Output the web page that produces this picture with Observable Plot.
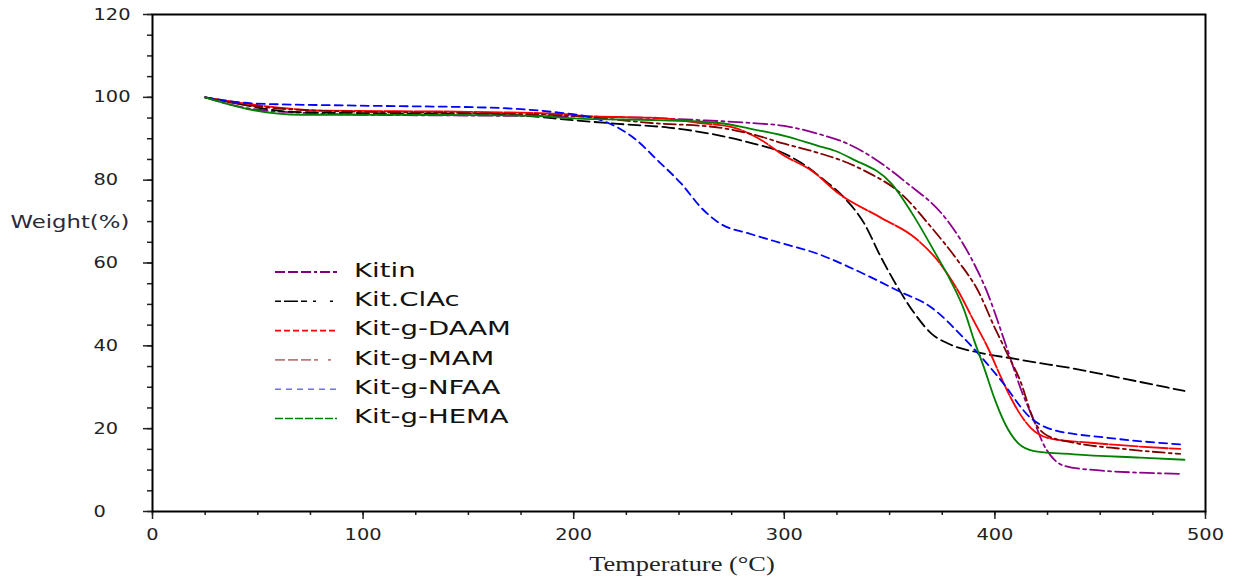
<!DOCTYPE html>
<html><head><meta charset="utf-8">
<script src="https://cdn.jsdelivr.net/npm/d3@7"></script>
<script src="https://cdn.jsdelivr.net/npm/@observablehq/plot@0.6"></script>
<style>
body{margin:0;background:#fff;}
#chart{width:1233px;height:580px;}
</style></head><body><div id="chart"></div>
<script>
// ---- data ----
const seriesNames = ["Kitin", "Kit.ClAc", "Kit-g-DAAM", "Kit-g-MAM", "Kit-g-NFAA", "Kit-g-HEMA"];

const kitinT = [25,35,50,70,100,150,200,237,260,284,300,316,330,337,357,377.5,388.6,396.6,404,407,412,418.5,423,426.5,433,445,488];
const kitinW = [100,98.5,97,96.3,95.8,95.6,95.4,95,94.5,93.8,93.1,91.2,88.8,87,79.8,70.2,61.3,52.6,42,37.5,30,22,16.3,13.5,11,10.1,9.1];

const clacT = [25,40,66,100,160,185,193,221,245,265,284,297,308,319,328,338,346,354,362,370,378,393,409,417,437.5,461,490];
const clacW = [100,98.5,96.5,96.2,96,95.2,94.8,93.6,92.7,91.2,89,87.1,84.2,80,76,69.5,61.3,54,47.7,42.9,40.5,38.3,36.9,36.2,34.5,32.1,29.1];

const daamT = [25,40,60,82,150,193,205,241,260,276,288,300,313,326,346,362,373,382.5,390,396.6,403,407.6,411,417,426.5,445.5,488];
const daamW = [100,98.8,97.5,96.8,96.5,96,95.5,95,93.8,92.7,90,85.9,82.3,76.7,70.9,66.1,60.5,53.3,46,39.6,32.3,27.4,24.3,20.2,17.6,16.6,15.1];

const mamT = [25,40,60,100,150,200,237,269,284,300,316,330,338,355.5,370,382.5,392,400,406,412,418.6,425,437.5,461,488];
const mamW = [100,98.5,97.3,96.5,96.2,95.5,93.8,92.7,91.2,88.8,86.6,84.2,82.3,76.7,68.5,60.5,53.3,44.3,38,31.6,21.9,18.3,16.6,15.1,13.9];

const nfaaT = [25,49,98,161,193,205,216,229,240,251,261,269,284,300,316,330,354,370,385,393,403,417,426.5,453.5,488];
const nfaaW = [100,98.5,98,97.5,96.3,95.5,93.9,90,84.7,79.2,73.1,69.7,67,64.6,62.2,59.2,53.3,49.2,42,37.6,31.6,22.6,19.9,17.8,16.2];

const hemaT = [25,35,47,71,114,177,205,240,269,284,300,316,324,332,351,362,371,379,385.5,390,395,400,405,411,418.6,437.5,469,490];
const hemaW = [100,98.5,97,95.8,95.8,95.6,94.8,94.5,93.8,92.4,90.7,88.3,87.1,85.2,79.1,70.9,63,55.7,48.5,41.5,34.5,27,21,16.5,14.6,13.8,13,12.5];

const xMajorTicks = [0,100,200,300,400,500];
const yMajorTicks = [0,20,40,60,80,100,120];

// ---- styles ----
const lineColors   = ["#8b008b", "#000000", "#ff0000", "#800000", "#0000ff", "#008000"];
const legendColors = ["#800080", "#000000", "#ff0000", "#c07878", "#6f6fff", "#008000"];
const lineDashes   = ["14,4,3,4", "12,5", "28,2", "12,4,3,4", "8,5", null];
const legendDashes = ["10,3,10,3,10,3,3,3", "6,3,14,3,6", "6,3", "10,3,10,3,10,3,4", "6,5", "8,2"];

const allT = [kitinT, clacT, daamT, mamT, nfaaT, hemaT];
const allW = [kitinW, clacW, daamW, mamW, nfaaW, hemaW];
const rows = seriesNames.flatMap((name, i) => allT[i].map((t, j) => ({name, T: t, W: allW[i][j]})));

const lineMarks = seriesNames.map((name, i) =>
  Plot.line(rows.filter(d => d.name === name), {
    x: "T", y: "W", curve: "monotone-x",
    stroke: lineColors[i], strokeWidth: 1.8,
    strokeDasharray: lineDashes[i] || undefined
  })
);

const plot = Plot.plot({
  width: 1233, height: 580,
  marginLeft: 152, marginRight: 28, marginTop: 14, marginBottom: 69,
  x: {domain: [0, 500]},
  y: {domain: [0, 120]},
  style: {background: "#fff", fontFamily: "DejaVu Sans", color: "#222"},
  marks: [
    Plot.axisY({ticks: d3.range(0, 121, 5), tickSize: 5, tickFormat: () => "", strokeWidth: 1.5, label: null}),
    Plot.axisY({ticks: yMajorTicks, tickSize: 9, tickPadding: 50, textAnchor: "start", fontSize: 16, strokeWidth: 1.5, label: null}),
    Plot.axisX({ticks: d3.range(0, 501, 25), tickSize: 4, tickFormat: () => "", strokeWidth: 1.5, label: null}),
    Plot.axisX({ticks: xMajorTicks, tickSize: 8, tickPadding: 9, fontSize: 16, strokeWidth: 1.5, label: null}),
    ...lineMarks,
    Plot.frame({stroke: "#000", strokeWidth: 2}),
    Plot.text(["Weight(%)"], {frameAnchor: "left", dx: -142, dy: -40, textAnchor: "start", fontSize: 17, fill: "#2a2a3a", className: "ytitle"}),
    Plot.text(["Temperature (°C)"], {frameAnchor: "bottom", dx: 3, dy: 59, fontSize: 20, fontFamily: "Liberation Serif", fill: "#222", className: "xtitle"})
  ]
});

document.getElementById("chart").appendChild(plot);
const svg = d3.select(plot);

// legend (decoration, positioned in pixels)
const leg = svg.append("g").attr("transform", "translate(273,270)").attr("text-anchor", "start");
seriesNames.forEach((name, i) => {
  const g = leg.append("g").attr("transform", `translate(0,${i * 29.3})`);
  g.append("line").attr("x1", 2).attr("x2", 64).attr("y1", 2).attr("y2", 2)
    .attr("stroke", legendColors[i]).attr("stroke-width", i === 0 ? 2.2 : 1.6)
    .attr("stroke-dasharray", legendDashes[i]);
  g.append("text").attr("class", "legtext").attr("x", 81).attr("y", 0).attr("dy", "0.35em")
    .attr("text-anchor", "start")
    .attr("font-family", "DejaVu Sans").attr("font-size", 19).attr("fill", "#111").text(name);
});

// widen texts to mimic the horizontally stretched reference
function stretch(sel, ratio) {
  sel.each(function() {
    const L = this.getComputedTextLength();
    if (L > 0) { this.setAttribute("textLength", (L * ratio).toFixed(1)); this.setAttribute("lengthAdjust", "spacingAndGlyphs"); }
  });
}
stretch(svg.selectAll("g[aria-label='y-axis tick label'] text, g[aria-label='x-axis tick label'] text"), 1.21);
stretch(svg.selectAll(".ytitle text"), 1.34);
stretch(svg.selectAll(".xtitle text"), 1.32);
stretch(svg.selectAll(".legtext"), 1.45);
</script></body></html>
